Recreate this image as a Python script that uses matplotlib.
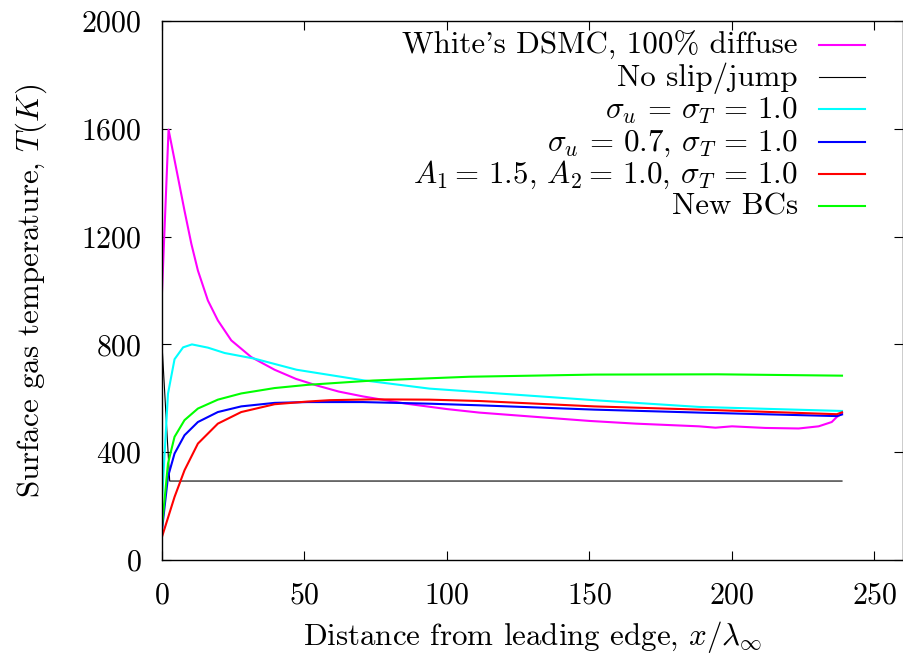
import matplotlib
matplotlib.use("Agg")
import matplotlib.pyplot as plt
from matplotlib.lines import Line2D

plt.rcParams['font.family'] = ['cmr10', 'DejaVu Serif']
plt.rcParams['mathtext.fontset'] = 'cm'
plt.rcParams['axes.formatter.use_mathtext'] = True

# ---- data ----
white_x = [0, 2.3, 5.6, 7.9, 10.3, 12.6, 16.1, 19.6, 24.3, 31.3, 39.5, 47, 54.2, 62,
           70.5, 85.7, 100, 111.3, 131.2, 150, 166.2, 188.4, 194.2, 200, 211.7, 223.4,
           230.4, 235, 236.8, 238.6]
white_T = [994, 1597, 1420, 1296, 1173, 1074, 963, 889, 815, 753, 706, 672, 648, 625,
           607, 580, 560, 547, 531, 516, 506, 496, 491, 496, 490, 488,
           496, 512, 531, 543]

noslip_x = [0, 2.7, 238.6]
noslip_T = [800, 293, 293]

cyan_x = [0, 2.1, 4.4, 7.4, 10.5, 16.1, 22, 32.5, 47.2, 70.5, 93.8, 111.3, 151.6, 188.4, 238.6]
cyan_T = [222, 617, 745, 789, 800, 788, 768, 747, 706, 667, 636, 623, 593, 568, 553]

blue_x = [0, 2.1, 4.4, 7.9, 12.6, 19.6, 27.8, 39.5, 51.1, 70.5, 93.8, 111.3, 151.6, 188.4, 236.8, 238.6]
blue_T = [111, 309, 395, 463, 512, 549, 570, 583, 586, 586, 580, 574, 558, 547, 534, 540]

red_x = [0, 4.4, 7.9, 12.6, 19.6, 27.8, 39.5, 51.1, 58.8, 74, 93.8, 111.3, 151.6, 188.4, 236.8, 238.6]
red_T = [86, 234, 333, 432, 506, 549, 578, 588, 593, 596, 595, 590, 570, 558, 541, 548]

green_x = [0, 2.1, 4.4, 7.9, 12.6, 19.6, 27.8, 39.5, 51.1, 74, 107.8, 151.6, 195, 238.6]
green_T = [123, 358, 457, 519, 562, 595, 618, 638, 650, 666, 680, 688, 689, 684]

labels = ["White's DSMC, 100% diffuse",
          "No slip/jump",
          r"$\sigma_u\,=\,\sigma_T\,=\,1.0$",
          r"$\sigma_u\,=\,0.7$, $\sigma_T\,=\,1.0$",
          r"$A_1=\,1.5$, $A_2=\,1.0$, $\sigma_T\,=\,1.0$",
          "New BCs"]
colors = ['#ff00ff', '#000000', '#00ffff', '#0000ff', '#ff0000', '#00ff00']
widths = [1.5, 0.8, 1.5, 1.5, 1.5, 1.5]

xticks = [0, 50, 100, 150, 200, 250]
yticks = [0, 400, 800, 1200, 1600, 2000]

series = [(white_x, white_T), (noslip_x, noslip_T), (cyan_x, cyan_T),
          (blue_x, blue_T), (red_x, red_T), (green_x, green_T)]

fs = 22.3
tfs = 21.5
fig = plt.figure(figsize=(9.04, 6.60), dpi=100)
ax = fig.add_axes([162/904, 1 - 560/660, (903 - 162)/904, 539/660])

for (xs, ys), c, lw in zip(series, colors, widths):
    ax.plot(xs, ys, color=c, lw=lw)

ax.set_xlim(0, 260)
ax.set_ylim(0, 2000)
ax.set_xticks(xticks)
ax.set_yticks(yticks)
ax.tick_params(direction='in', top=True, right=True, length=6.5, width=0.8,
               labelsize=tfs)
ax.tick_params(axis='x', pad=16)
ax.tick_params(axis='y', pad=14.5)
for s in ax.spines.values():
    s.set_linewidth(1.0)

ax.set_xlabel(r"Distance from leading edge, $x/\lambda_\infty$", fontsize=fs, labelpad=7)
ax.set_ylabel(r"Surface gas temperature, $T(K)$", fontsize=fs, labelpad=23)

# manual legend (right-aligned text, sample line on the right)
def ax_frac(px, py):
    return ((px - 162) / (903 - 162), (560 - py) / 539)

row_y = [45, 77.2, 109.4, 141.6, 173.8, 206]
for lab, c, lw, ry in zip(labels, colors, widths, row_y):
    tx, ty = ax_frac(798, ry + 9)
    ax.text(tx, ty, lab, transform=ax.transAxes, ha='right', va='baseline', fontsize=fs)
    x0, yy = ax_frac(819, ry)
    x1, _ = ax_frac(865, ry)
    ax.add_line(Line2D([x0, x1], [yy, yy], transform=ax.transAxes, color=c, lw=lw))

fig.savefig("out.png", dpi=100)
